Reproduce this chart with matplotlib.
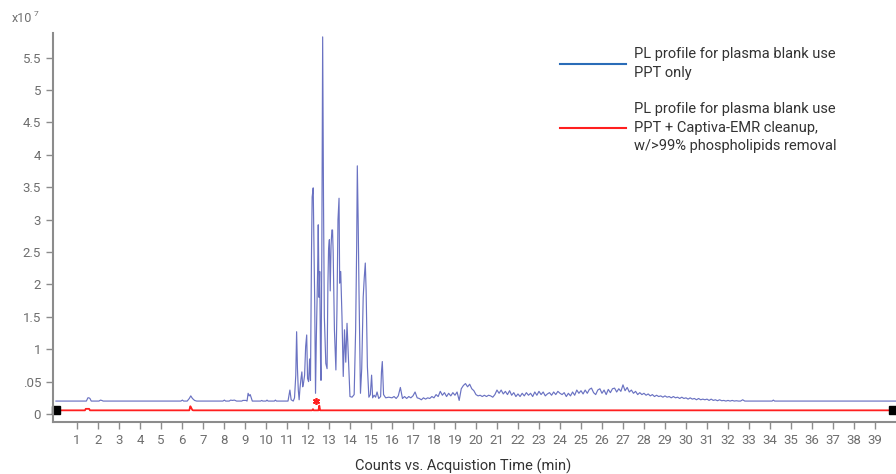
import matplotlib
matplotlib.use('Agg')
import matplotlib.pyplot as plt
from matplotlib.lines import Line2D

plt.rcParams['font.family'] = ['Roboto', 'DejaVu Sans']

# PPT only trace (x10^7 counts), time in minutes
blue_t = [0, 1.45, 1.52, 1.57, 1.62, 1.68, 1.75, 2.05, 2.12, 2.18, 2.25,
          5.95, 6.02, 6.08, 6.25, 6.35, 6.42, 6.5, 6.6, 6.7,
          7.95, 8.02, 8.08, 8.25, 8.32, 8.4, 8.5, 8.6, 8.85, 8.9,
          9.05, 9.1, 9.15, 9.2, 9.25, 9.35, 9.75, 9.8, 9.85, 10.0, 10.05, 10.1,
          10.4, 10.45, 10.5, 11.05, 11.1, 11.14, 11.2,
          11.3, 11.36, 11.42, 11.46, 11.5, 11.54, 11.58, 11.62, 11.67, 11.71,
          11.75, 11.79, 11.84, 11.89, 11.94, 11.98, 12.03, 12.08, 12.12, 12.15,
          12.17, 12.2, 12.25, 12.28, 12.32, 12.36, 12.4, 12.46, 12.49, 12.53,
          12.56, 12.6, 12.62, 12.66, 12.7, 12.74, 12.78, 12.85, 12.91, 12.95,
          12.98, 13.02, 13.06, 13.1, 13.14, 13.17, 13.2, 13.26, 13.33, 13.38,
          13.43, 13.48, 13.51, 13.56, 13.62, 13.68, 13.74, 13.8, 13.86, 13.92,
          14.0, 14.1, 14.2, 14.27, 14.32, 14.35, 14.39, 14.43, 14.5, 14.56,
          14.63, 14.68, 14.73, 14.77, 14.83, 14.9, 14.97, 15.03, 15.08, 15.15,
          15.22, 15.29, 15.37, 15.46, 15.5, 15.54, 15.6, 15.7, 15.85]
blue_v = [0.2, 0.2, 0.25, 0.25, 0.24, 0.2, 0.2, 0.2, 0.215, 0.21, 0.2,
          0.2, 0.215, 0.2, 0.2, 0.24, 0.28, 0.24, 0.21, 0.2,
          0.2, 0.215, 0.2, 0.2, 0.215, 0.21, 0.215, 0.2, 0.2, 0.21,
          0.21, 0.2, 0.32, 0.28, 0.3, 0.2, 0.2, 0.21, 0.2, 0.2, 0.215, 0.2,
          0.2, 0.215, 0.2, 0.2, 0.3, 0.37, 0.22,
          0.2, 0.25, 0.6, 1.27, 0.7, 0.37, 0.22, 0.4, 0.55, 0.65,
          0.42, 0.48, 0.6, 1.04, 1.22, 0.55, 0.5, 0.85, 0.52, 1.8,
          2.53, 3.35, 3.49, 2.8, 1.76, 0.32, 1.2, 2.2, 2.92, 1.8,
          2.2, 0.8, 0.52, 2.5, 5.82, 3.3, 1.5, 0.78, 0.7, 2.0,
          2.53, 2.69, 1.9, 2.6, 2.84, 2.84, 2.5, 1.3, 0.68, 1.6,
          3.0, 3.33, 2.02, 2.2, 1.5, 0.58, 1.3, 0.8, 1.4, 0.9,
          0.27, 0.26, 0.3, 1.3, 2.6, 3.83, 3.0, 1.9, 0.32, 0.7,
          1.8, 2.1, 2.33, 1.9, 0.73, 0.26, 0.3, 0.6, 0.25, 0.29,
          0.26, 0.34, 0.24, 0.27, 0.65, 0.81, 0.3, 0.25, 0.26]

# noisy tail, ten readings per minute (m.0 ... m.9)
noise_minutes = list(range(16, 33))
noise_v = [
    [0.25, 0.27, 0.24, 0.28, 0.41, 0.24, 0.27, 0.24, 0.27, 0.25],
    [0.28, 0.34, 0.25, 0.24, 0.22, 0.25, 0.23, 0.25, 0.24, 0.27],
    [0.25, 0.30, 0.27, 0.35, 0.29, 0.33, 0.27, 0.32, 0.28, 0.33],
    [0.29, 0.34, 0.21, 0.39, 0.44, 0.47, 0.42, 0.46, 0.39, 0.36],
    [0.30, 0.28, 0.29, 0.27, 0.29, 0.27, 0.29, 0.28, 0.26, 0.30],
    [0.37, 0.32, 0.37, 0.31, 0.35, 0.30, 0.36, 0.29, 0.33, 0.27],
    [0.31, 0.27, 0.32, 0.28, 0.33, 0.29, 0.32, 0.27, 0.34, 0.29],
    [0.35, 0.30, 0.34, 0.28, 0.31, 0.33, 0.29, 0.34, 0.30, 0.35],
    [0.32, 0.30, 0.33, 0.27, 0.32, 0.28, 0.34, 0.29, 0.37, 0.32],
    [0.36, 0.31, 0.37, 0.32, 0.38, 0.40, 0.33, 0.30, 0.37, 0.39],
    [0.32, 0.37, 0.30, 0.38, 0.33, 0.39, 0.40, 0.34, 0.39, 0.35],
    [0.45, 0.36, 0.41, 0.34, 0.37, 0.32, 0.35, 0.30, 0.33, 0.30],
    [0.32, 0.29, 0.31, 0.28, 0.30, 0.27, 0.29, 0.27, 0.28, 0.26],
    [0.28, 0.26, 0.27, 0.25, 0.27, 0.25, 0.26, 0.24, 0.26, 0.24],
    [0.25, 0.23, 0.25, 0.23, 0.24, 0.22, 0.24, 0.22, 0.23, 0.22],
    [0.23, 0.21, 0.23, 0.21, 0.22, 0.205, 0.22, 0.205, 0.21, 0.2],
    [0.21, 0.2, 0.21, 0.2, 0.205, 0.2, 0.2, 0.22, 0.2, 0.2],
]
tail_t = [33.0, 34.1, 34.16, 34.22, 40.0]
tail_v = [0.2, 0.2, 0.215, 0.2, 0.2]

# PPT + Captiva-EMR trace
red_t = [0, 1.38, 1.42, 1.58, 1.62, 6.35, 6.4, 6.45, 6.5, 6.55,
         12.2, 12.24, 12.27, 12.5, 12.54, 12.58, 39.86]
red_v = [0.057, 0.057, 0.08, 0.08, 0.057, 0.057, 0.12, 0.09, 0.06, 0.057,
         0.057, 0.075, 0.057, 0.057, 0.13, 0.057, 0.057]
star_t = [12.38]
star_v = [0.2]
end_t = [0, 39.86]
end_v = [0.057, 0.057]

ytick_vals = [0, 0.5, 1, 1.5, 2, 2.5, 3, 3.5, 4, 4.5, 5, 5.5]
ytick_labels = ['0', '.05', '1', '1.5', '2', '2.5', '3', '3.5', '4', '4.5', '5', '5.5']
xtick_vals = list(range(1, 40))

labels = ['PL profile for plasma blank use\nPPT only',
          'PL profile for plasma blank use\nPPT + Captiva-EMR cleanup,\nw/>99% phospholipids removal']

for m, row in zip(noise_minutes, noise_v):
    for k, v in enumerate(row):
        blue_t.append(round(m + k / 10, 2))
        blue_v.append(v)
blue_t += tail_t
blue_v += tail_v

fig = plt.figure(figsize=(8.96, 4.74), dpi=100)
ax = fig.add_axes([53 / 896, 1 - 422 / 474, 1 - 53 / 896, (422 - 33) / 474])

ax.plot(blue_t, blue_v, color='#6a72c2', lw=0.85)
ax.plot(red_t, red_v, color='#ff1f1f', lw=1.3)
ax.plot(star_t, star_v, ls='none', marker=(6, 2, 0), color='#ff1f1f', ms=5, mew=1.2)
ax.plot(end_t, end_v, ls='none', marker='s', color='black', ms=6, clip_on=False)

ax.set_xlim(-0.14, 40.0)
ax.set_ylim(-0.123, 5.88)
ax.set_xticks(xtick_vals)
ax.set_xticklabels([str(x) for x in xtick_vals])
ax.set_yticks(ytick_vals)
ax.set_yticklabels(ytick_labels)

for s in ['top', 'right']:
    ax.spines[s].set_visible(False)
for s in ['left', 'bottom']:
    ax.spines[s].set_color('#8c8c8c')
    ax.spines[s].set_linewidth(1.5)
ax.tick_params(colors='#8c8c8c', labelcolor='#6e6e6e', labelsize=9.5, length=5, width=1)

fig.text(463 / 896, 8 / 474, 'Counts vs. Acquistion Time (min)', ha='center', va='center',
         fontsize=10.5, color='#333333')
fig.text(12 / 896, 1 - 18 / 474, 'x10', ha='left', va='center', fontsize=9, color='#6e6e6e')
fig.text(33.5 / 896, 1 - 14 / 474, '7', ha='left', va='center', fontsize=6, color='#6e6e6e')

handles = [Line2D([], [], color='#2a6cb8', lw=1.5), Line2D([], [], color='#ff1f1f', lw=1.5)]
leg = fig.legend(handles, labels, loc='upper left', bbox_to_anchor=(560 / 896, 1 - 47 / 474),
                 frameon=False, fontsize=10.5, handlelength=4.5, handletextpad=0.55,
                 labelspacing=1.55, borderpad=0, borderaxespad=0, labelcolor='#333333')
for t in leg.get_texts():
    t.set_linespacing(1.42)

fig.savefig('out.png', dpi=100)
